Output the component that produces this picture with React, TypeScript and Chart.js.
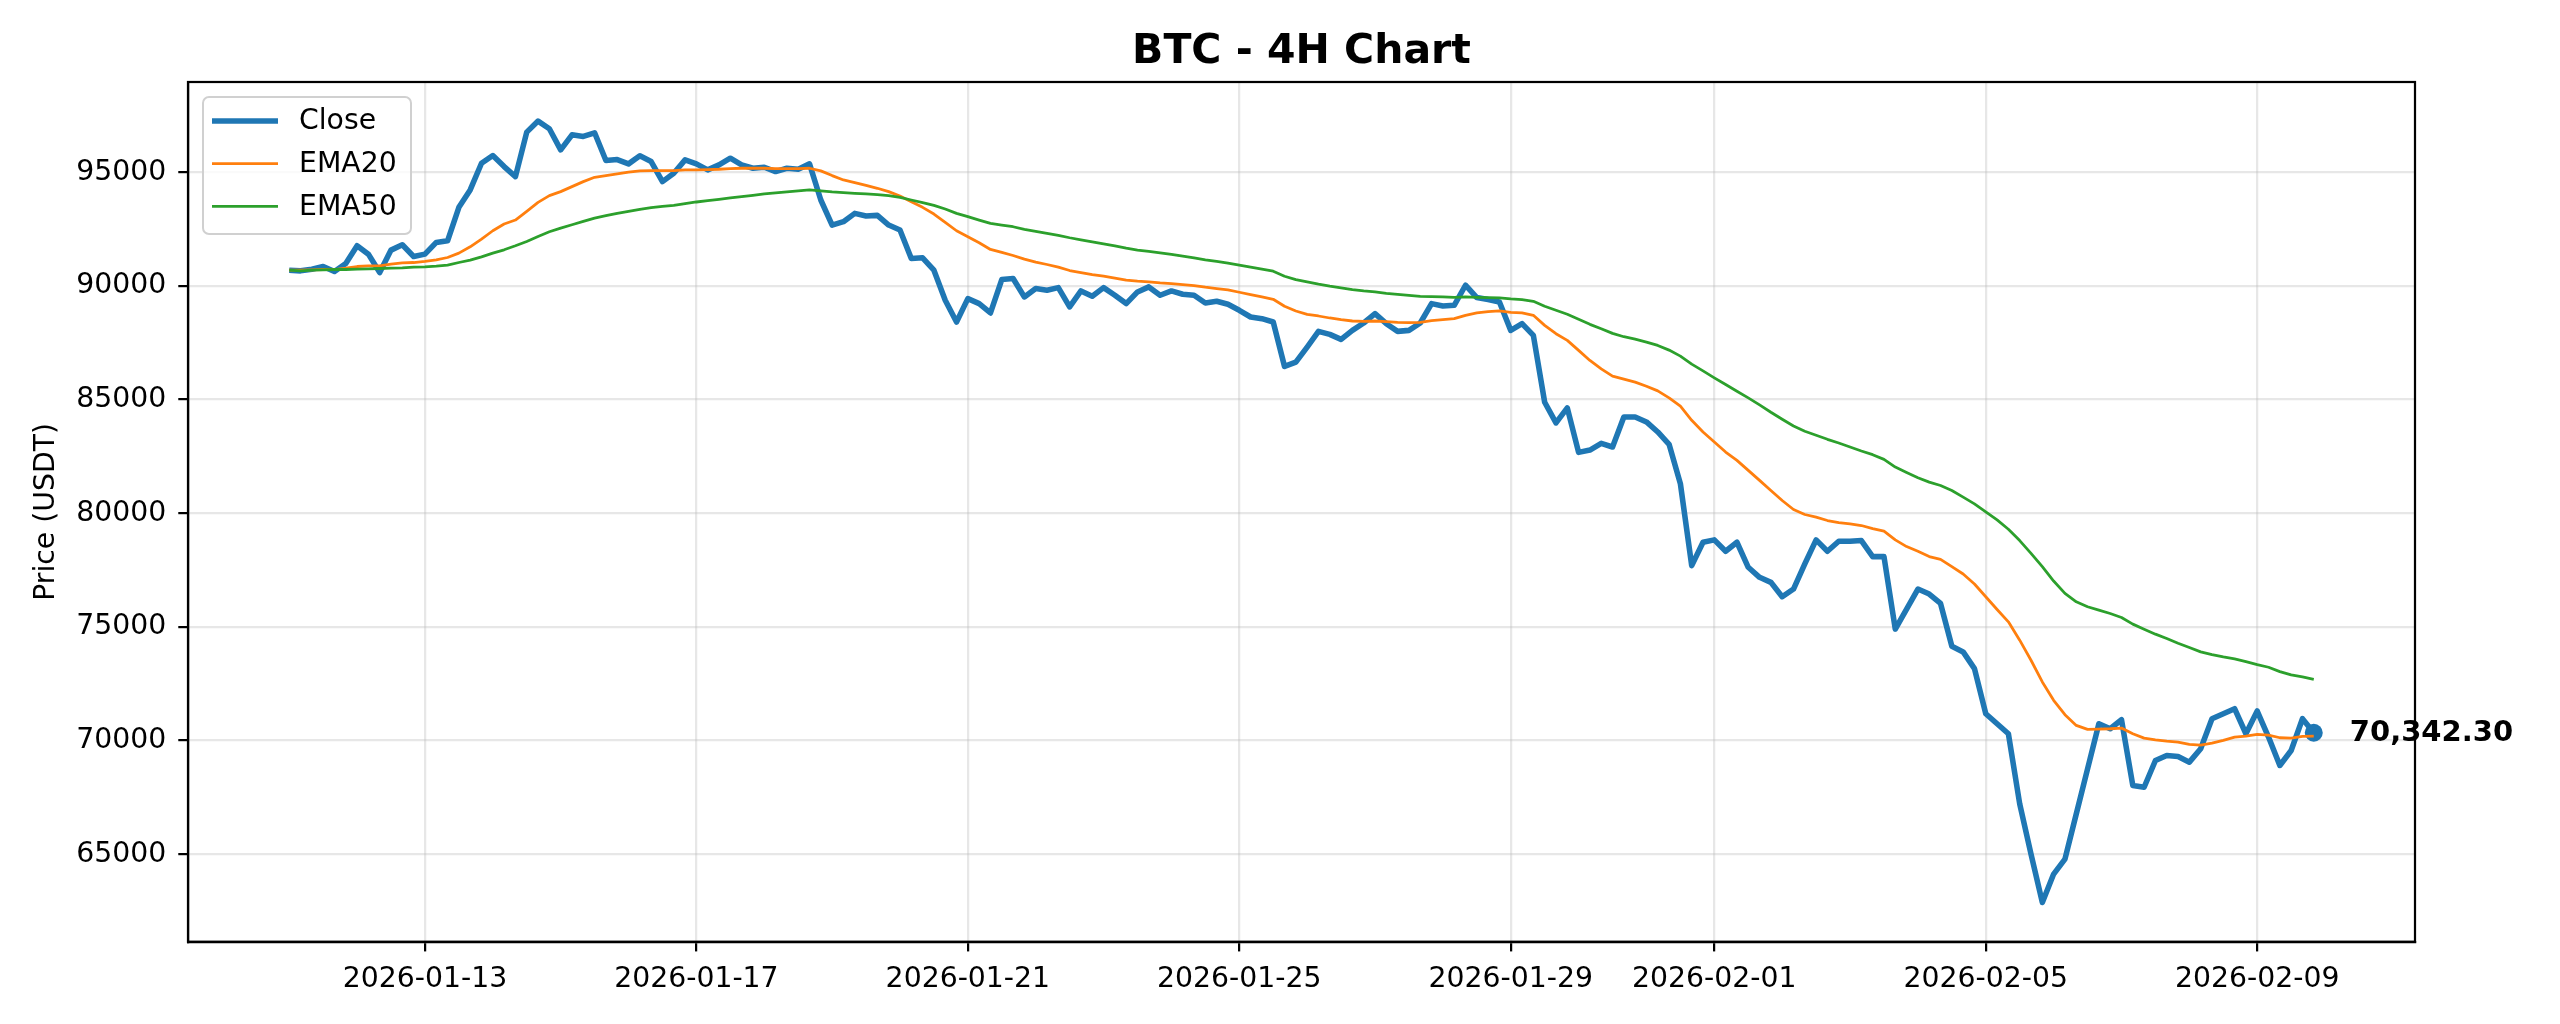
import { useEffect, useRef } from 'react'
import { Chart, registerables } from 'chart.js'

Chart.register(...registerables)

// 4H candles, first close at 2026-01-11 00:00 UTC
const START = Date.UTC(2026, 0, 11, 0, 0)
const STEP_MS = 4 * 3600 * 1000

const CLOSE = [
  90691, 90662, 90735, 90853, 90632, 90985, 91765, 91397, 90588, 91574,
  91809, 91294, 91397, 91912, 91985, 93456, 94221, 95397, 95735, 95250,
  94809, 96765, 97250, 96912, 95985, 96647, 96574, 96735, 95515, 95559,
  95368, 95721, 95471, 94588, 94956, 95544, 95368, 95103, 95324, 95618,
  95324, 95176, 95221, 95029, 95176, 95132, 95368, 93779, 92676, 92824,
  93191, 93074, 93103, 92676, 92456, 91206, 91235, 90691, 89368, 88412,
  89441, 89221, 88809, 90279, 90324, 89515, 89882, 89809, 89926, 89074,
  89779, 89544, 89926, 89588, 89221, 89735, 89956, 89588, 89779, 89632,
  89588, 89250, 89324, 89191, 88926, 88632, 88559, 88412, 86456, 86647,
  87309, 88000, 87868, 87647, 88044, 88368, 88779, 88338, 88000, 88044,
  88368, 89221, 89118, 89147, 90029, 89485, 89397, 89294, 88044, 88338,
  87824, 84882, 83971, 84632, 82676, 82779, 83074, 82913, 84235, 84235,
  84015, 83574, 83030, 81296, 77694, 78723, 78826, 78326, 78723, 77621,
  77180, 76959, 76327, 76665, 77768, 78826, 78326, 78767, 78767, 78797,
  78091, 78091, 74901, 75783, 76665, 76445, 76031, 74149, 73899, 73164,
  71180, 70739, 70298, 67211, 65006, 62875, 64124, 64785, 66770, 68755,
  70739, 70518, 70915, 68020, 67946, 69122, 69343, 69298, 69049, 69636,
  70959, 71180, 71401, 70298, 71298, 70151, 68902, 69563, 70959, 70342.3,
]

const EMA20 = [
  90691, 90691, 90706, 90721, 90721, 90779, 90853, 90882, 90882, 90956,
  91015, 91029, 91074, 91147, 91250, 91441, 91721, 92059, 92426, 92721,
  92897, 93279, 93676, 93971, 94147, 94368, 94588, 94779, 94853, 94926,
  95000, 95059, 95074, 95074, 95074, 95103, 95103, 95118, 95132, 95162,
  95176, 95176, 95176, 95162, 95162, 95162, 95176, 95059, 94853, 94662,
  94544, 94426, 94294, 94147, 93956, 93706, 93456, 93162, 92800, 92426,
  92162, 91897, 91603, 91471, 91338, 91176, 91044, 90941, 90824, 90676,
  90588, 90500, 90426, 90338, 90250, 90206, 90176, 90132, 90103, 90059,
  90015, 89941, 89882, 89824, 89721, 89618, 89515, 89412, 89103, 88897,
  88750, 88676, 88588, 88515, 88456, 88441, 88456, 88426, 88397, 88382,
  88397, 88471, 88515, 88559, 88706, 88809, 88868, 88897, 88838, 88809,
  88706, 88265, 87897, 87603, 87162, 86721, 86353, 86029, 85897, 85765,
  85588, 85382, 85074, 84706, 84088, 83574, 83133, 82692, 82325, 81884,
  81443, 81002, 80561, 80164, 79943, 79826, 79679, 79590, 79532, 79459,
  79326, 79209, 78826, 78532, 78326, 78091, 77971, 77648, 77325, 76884,
  76325, 75766, 75222, 74414, 73532, 72577, 71768, 71136, 70665, 70489,
  70504, 70518, 70548, 70298, 70107, 70034, 69975, 69931, 69828, 69798,
  69886, 70004, 70151, 70195, 70268, 70239, 70122, 70107, 70180, 70195,
]

const EMA50 = [
  90691, 90662, 90691, 90706, 90721, 90721, 90735, 90750, 90765, 90779,
  90794, 90824, 90838, 90868, 90912, 91029, 91132, 91279, 91441, 91588,
  91765, 91956, 92176, 92382, 92544, 92691, 92838, 92985, 93088, 93191,
  93279, 93368, 93441, 93500, 93544, 93618, 93691, 93750, 93809, 93868,
  93926, 93985, 94044, 94088, 94132, 94176, 94221, 94176, 94132, 94103,
  94074, 94044, 94015, 93971, 93897, 93779, 93662, 93544, 93382, 93191,
  93044, 92897, 92750, 92676, 92603, 92485, 92397, 92309, 92221, 92118,
  92029, 91941, 91853, 91765, 91662, 91574, 91515, 91456, 91382, 91309,
  91235, 91147, 91074, 91000, 90912, 90824, 90735, 90647, 90426, 90279,
  90176, 90074, 89985, 89912, 89838, 89779, 89735, 89676, 89632, 89588,
  89544, 89529, 89515, 89500, 89515, 89500, 89485, 89471, 89426, 89397,
  89324, 89103, 88926, 88750, 88529, 88309, 88118, 87911, 87764, 87661,
  87528, 87381, 87176, 86911, 86558, 86264, 85956, 85662, 85368, 85074,
  84765, 84441, 84133, 83839, 83604, 83427, 83251, 83089, 82913, 82736,
  82575, 82369, 82031, 81795, 81560, 81369, 81220, 81000, 80706, 80412,
  80059, 79706, 79294, 78795, 78236, 77648, 77016, 76472, 76104, 75884,
  75737, 75590, 75414, 75120, 74899, 74679, 74488, 74282, 74091, 73899,
  73782, 73679, 73591, 73473, 73341, 73223, 73032, 72885, 72797, 72694,
]

const X_TICK_LABELS = [
  '2026-01-13', '2026-01-17', '2026-01-21', '2026-01-25',
  '2026-01-29', '2026-02-01', '2026-02-05', '2026-02-09',
]
const Y_TICKS = [65000, 70000, 75000, 80000, 85000, 90000, 95000]
const Y_MIN = 61150
const Y_MAX = 98970

const TITLE = 'BTC - 4H Chart'
const Y_LABEL = 'Price (USDT)'

const W = 2560
const H = 1024
const PT = 200 / 72 // matplotlib points -> px at 200 dpi
const FONT = '"DejaVu Sans", "Liberation Sans", sans-serif'
const FS = 28.3
const GRID = 'rgba(176,176,176,0.3)'

const toXY = (arr: number[]) => arr.map((y, i) => ({ x: START + i * STEP_MS, y }))

function roundRect(ctx: CanvasRenderingContext2D, x: number, y: number, w: number, h: number, r: number) {
  ctx.beginPath()
  ctx.moveTo(x + r, y)
  ctx.arcTo(x + w, y, x + w, y + h, r)
  ctx.arcTo(x + w, y + h, x, y + h, r)
  ctx.arcTo(x, y + h, x, y, r)
  ctx.arcTo(x, y, x + w, y, r)
  ctx.closePath()
}

// top/right spines like matplotlib's full frame
const framePlugin = {
  id: 'frame',
  afterDatasetsDraw(chart: Chart) {
    const { ctx, chartArea: a } = chart
    ctx.save()
    ctx.strokeStyle = '#000'
    ctx.lineWidth = 0.8 * PT
    ctx.strokeRect(a.left, a.top, a.right - a.left, a.bottom - a.top)
    ctx.restore()
  },
}

// legend box in the upper-left corner of the axes
const legendPlugin = {
  id: 'mplLegend',
  afterDraw(chart: Chart) {
    const { ctx, chartArea: a } = chart
    const x0 = a.left + 15
    const y0 = a.top + 15
    ctx.save()
    roundRect(ctx, x0, y0, 208, 137, 6)
    ctx.fillStyle = 'rgba(255,255,255,0.8)'
    ctx.fill()
    ctx.strokeStyle = '#d0d0d0'
    ctx.lineWidth = 2
    ctx.stroke()
    ctx.font = `${FS}px ${FONT}`
    ctx.textBaseline = 'middle'
    ctx.textAlign = 'left'
    const items = chart.data.datasets.filter((d) => d.label)
    items.forEach((d, i) => {
      const y = y0 + 24 + i * 42.7
      ctx.beginPath()
      ctx.moveTo(x0 + 9, y)
      ctx.lineTo(x0 + 75, y)
      ctx.strokeStyle = d.borderColor as string
      ctx.lineWidth = d.borderWidth as number
      ctx.lineCap = 'butt'
      ctx.stroke()
      ctx.fillStyle = '#000'
      ctx.fillText(d.label as string, x0 + 96, y + 1)
    })
    ctx.restore()
  },
}

// last close value printed to the right of the final point
const lastLabelPlugin = {
  id: 'lastLabel',
  afterDraw(chart: Chart) {
    const { ctx } = chart
    const meta = chart.getDatasetMeta(0)
    const pt = meta.data[meta.data.length - 1]
    const last = CLOSE[CLOSE.length - 1]
    ctx.save()
    ctx.font = `bold 29px ${FONT}`
    ctx.fillStyle = '#000'
    ctx.textBaseline = 'middle'
    ctx.textAlign = 'left'
    ctx.fillText(
      last.toLocaleString('en-US', { minimumFractionDigits: 2, maximumFractionDigits: 2 }),
      pt.x + 36,
      pt.y + 1,
    )
    ctx.restore()
  },
}

export default function App() {
  const canvasRef = useRef<HTMLCanvasElement>(null)
  const chartRef = useRef<Chart | null>(null)

  useEffect(() => {
    chartRef.current?.destroy()
    chartRef.current = null
    if (!canvasRef.current) return

    const xFirst = START
    const xLast = START + (CLOSE.length - 1) * STEP_MS
    const margin = (xLast - xFirst) * 0.05
    const xTickValues = X_TICK_LABELS.map((s) => Date.parse(s + 'T00:00:00Z'))
    const tickFont = { family: FONT, size: FS }

    chartRef.current = new Chart(canvasRef.current, {
      type: 'line',
      data: {
        datasets: [
          {
            label: 'Close',
            data: toXY(CLOSE),
            borderColor: '#1f77b4',
            borderWidth: 2 * PT,
            pointRadius: 0,
            borderJoinStyle: 'round',
            order: 4,
          },
          {
            label: 'EMA20',
            data: toXY(EMA20),
            borderColor: '#ff7f0e',
            borderWidth: 1 * PT,
            pointRadius: 0,
            borderJoinStyle: 'round',
            order: 2,
          },
          {
            label: 'EMA50',
            data: toXY(EMA50),
            borderColor: '#2ca02c',
            borderWidth: 1 * PT,
            pointRadius: 0,
            borderJoinStyle: 'round',
            order: 1,
          },
          {
            label: '',
            data: [{ x: xLast, y: CLOSE[CLOSE.length - 1] }],
            showLine: false,
            pointRadius: 9,
            pointBackgroundColor: '#1f77b4',
            pointBorderWidth: 0,
            borderColor: '#1f77b4',
            order: 3,
          },
        ],
      },
      options: {
        responsive: false,
        devicePixelRatio: 1,
        animation: false,
        layout: { padding: { left: 0, right: 145, top: 0, bottom: 0 } },
        plugins: {
          legend: { display: false },
          tooltip: { enabled: false },
          title: {
            display: true,
            text: TITLE,
            color: '#000',
            fullSize: false,
            font: { family: FONT, size: 41, weight: 'bold' },
            padding: { top: 27.7, bottom: 5.1 },
          },
        },
        scales: {
          x: {
            type: 'linear',
            min: xFirst - margin,
            max: xLast + margin,
            bounds: 'data',
            afterBuildTicks: (scale) => {
              scale.ticks = xTickValues.map((value) => ({ value }))
            },
            afterFit: (scale) => {
              scale.height = H - 941.7
            },
            ticks: {
              color: '#000',
              font: tickFont,
              padding: 11,
              maxRotation: 0,
              autoSkip: false,
              callback: (v) => new Date(Number(v)).toISOString().slice(0, 10),
            },
            grid: {
              color: GRID,
              lineWidth: 0.8 * PT,
              tickColor: '#000',
              tickLength: 3.5 * PT,
              tickWidth: 0.8 * PT,
            },
            border: { display: true, color: '#000', width: 0.8 * PT },
          },
          y: {
            type: 'linear',
            min: Y_MIN,
            max: Y_MAX,
            bounds: 'data',
            afterBuildTicks: (scale) => {
              scale.ticks = Y_TICKS.map((value) => ({ value }))
            },
            afterFit: (scale) => {
              scale.width = 188
            },
            ticks: {
              color: '#000',
              font: tickFont,
              padding: 12,
              callback: (v) => String(v),
            },
            grid: {
              color: GRID,
              lineWidth: 0.8 * PT,
              tickColor: '#000',
              tickLength: 3.5 * PT,
              tickWidth: 0.8 * PT,
            },
            border: { display: true, color: '#000', width: 0.8 * PT },
            title: {
              display: true,
              text: Y_LABEL,
              color: '#000',
              font: tickFont,
              padding: { top: 30, bottom: 0 },
            },
          },
        },
      },
      plugins: [framePlugin, legendPlugin, lastLabelPlugin],
    })

    return () => {
      chartRef.current?.destroy()
      chartRef.current = null
    }
  }, [])

  return (
    <div style={{ position: 'absolute', left: 0, top: 0, width: W, height: H, background: '#fff' }}>
      <canvas ref={canvasRef} width={W} height={H} />
    </div>
  )
}
